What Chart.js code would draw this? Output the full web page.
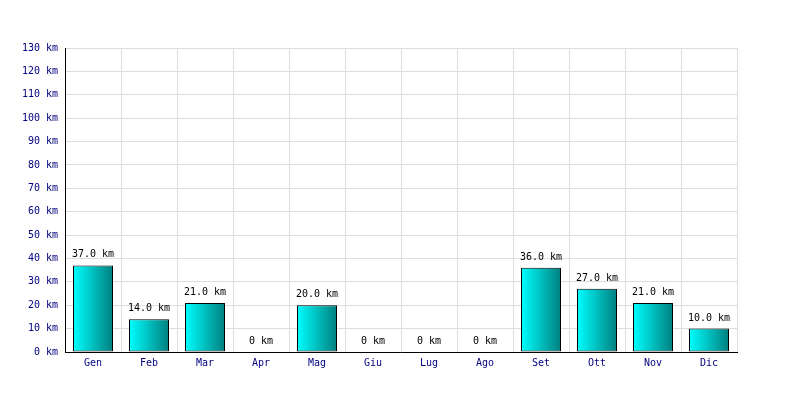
<!DOCTYPE html>
<html>
<head>
<meta charset="utf-8">
<script src="https://cdn.jsdelivr.net/npm/chart.js@4/dist/chart.umd.min.js"></script>
<style>
html,body{margin:0;padding:0;background:#fff;}
#wrap{width:800px;height:400px;}
</style>
</head>
<body>
<div id="wrap"><canvas id="c" width="800" height="400"></canvas></div>
<script>
const months = ["Gen","Feb","Mar","Apr","Mag","Giu","Lug","Ago","Set","Ott","Nov","Dic"];
const distanceKm = [37,14,21,0,20,0,0,0,36,27,21,10];
const yMax = 130;
const yStep = 10;

const FONT = "'DejaVu Sans Mono', 'Liberation Mono', monospace";
const BAR_PCT = 40 / 56;

const barLabels = {
  id: 'barLabels',
  afterDatasetsDraw(chart) {
    const ctx = chart.ctx;
    const meta = chart.getDatasetMeta(0);
    ctx.save();
    ctx.font = "10px " + FONT;
    ctx.fillStyle = "#000";
    ctx.textAlign = "center";
    ctx.textBaseline = "alphabetic";
    meta.data.forEach((bar, i) => {
      const v = distanceKm[i];
      const txt = v > 0 ? v.toFixed(1) + " km" : "0 km";
      ctx.fillText(txt, bar.x, bar.y - 8);
    });
    ctx.restore();
  }
};

new Chart(document.getElementById('c'), {
  type: 'bar',
  data: {
    labels: months,
    datasets: [{
      data: distanceKm,
      borderColor: '#000',
      borderWidth: 1,
      borderSkipped: false,
      inflateAmount: 0,
      barPercentage: BAR_PCT,
      categoryPercentage: 1,
      backgroundColor(c) {
        const chart = c.chart;
        const xs = chart.scales && chart.scales.x;
        if (!chart.chartArea || !xs || c.dataIndex === undefined) return '#00cccc';
        const cx = xs.getPixelForValue(c.dataIndex);
        if (!isFinite(cx)) return '#00cccc';
        const w = (chart.chartArea.right - chart.chartArea.left) / months.length * BAR_PCT;
        const g = chart.ctx.createLinearGradient(cx - w/2, 0, cx + w/2, 0);
        g.addColorStop(0, '#00ffff');
        g.addColorStop(1, '#007f7f');
        return g;
      }
    }]
  },
  options: {
    responsive: false,
    animation: false,
    layout: { padding: { left: 0, right: 63, top: 48, bottom: 28 } },
    plugins: { legend: { display: false }, tooltip: { enabled: false } },
    scales: {
      x: {
        grid: { color: '#dddddd', drawTicks: false, offset: true },
        border: { color: '#000', width: 1 },
        ticks: { color: '#000080', font: { family: FONT, size: 10 }, padding: 5 },
        afterFit(s) { s.height = 20; }
      },
      y: {
        min: 0, max: yMax,
        grid: { color: '#dddddd', drawTicks: false },
        border: { color: '#000', width: 1 },
        ticks: {
          stepSize: yStep,
          color: '#000080',
          font: { family: FONT, size: 10 },
          padding: 7,
          callback: v => v + " km"
        },
        afterFit(s) { s.width = 65; }
      }
    }
  },
  plugins: [barLabels]
});
</script>
</body>
</html>
